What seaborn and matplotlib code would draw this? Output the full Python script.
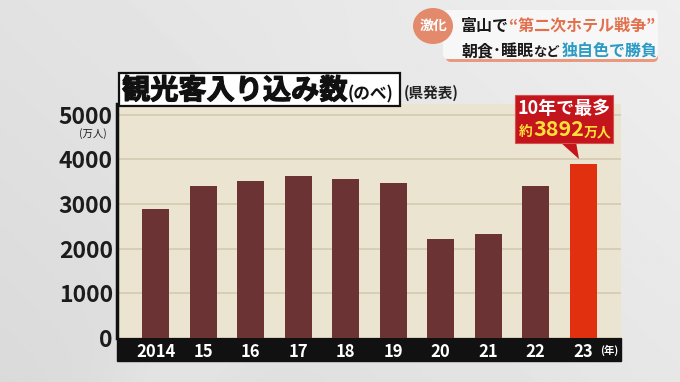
import numpy as np
import pandas as pd
import matplotlib
matplotlib.use("Agg")
import matplotlib.pyplot as plt
import matplotlib.patheffects as pe
import seaborn as sns
from matplotlib.patches import FancyBboxPatch, Rectangle, Ellipse, Polygon

# ---- data ----
years = ["2014", "15", "16", "17", "18", "19", "20", "21", "22", "23"]
visitors = [2880, 3400, 3520, 3630, 3560, 3480, 2215, 2325, 3400, 3892]
yticks = [0, 1000, 2000, 3000, 4000, 5000]
highlight_year = "23"

BAR = "#6b3333"
HIGH = "#e0300f"
colors = [HIGH if y == highlight_year else BAR for y in years]
df = pd.DataFrame({"year": years, "visitors": visitors})

sns.set_theme(style="white")
plt.rcParams["font.family"] = ["Noto Sans CJK JP", "DejaVu Sans"]

W, H = 680, 382
fig = plt.figure(figsize=(6.8, 3.82), dpi=100)

# background gradient
bg = fig.add_axes([0, 0, 1, 1], zorder=-10)
yy, xx = np.mgrid[0:1:200j, 0:1:360j]
val = 0.885 + 0.05 * xx - 0.03 * yy + 0.025 * np.exp(-((xx - 0.25 + yy * 0.3 - 0.3) ** 2) / 0.01) * yy
bg.imshow(val, cmap="gray", vmin=0, vmax=1, aspect="auto", extent=[0, 1, 0, 1])
bg.axis("off")

# main axes
top_px, bot_px, left_px, right_px = 104, 338, 117, 621
ax = fig.add_axes([left_px / W, (H - bot_px) / H, (right_px - left_px) / W, (bot_px - top_px) / H])
sns.barplot(data=df, x="year", y="visitors", hue="year", palette=colors, width=0.57,
            saturation=1, legend=False, ax=ax, zorder=2, linewidth=0, edgecolor="none")
ax.set_xlim(-0.82, 9.8)
ax.set_ylim(0, 5240)
ax.set_facecolor("#ebe4d0")
ax.set_yticks(yticks)
ax.set_yticklabels([str(v) for v in yticks], fontweight="bold")
ax.yaxis.grid(True, color="#d5ccb4", lw=1.3)
ax.set_axisbelow(True)
for s in ["top", "right", "bottom"]:
    ax.spines[s].set_visible(False)
ax.spines["left"].set_color("#111111")
ax.spines["left"].set_linewidth(2.5)
ax.tick_params(axis="y", length=0, pad=3, labelsize=16.5, labelcolor="#1c1c1c")
ax.tick_params(axis="x", length=0, pad=3.5, labelsize=12, labelcolor="white")
for t in ax.get_xticklabels():
    t.set_fontweight("bold")
ax.set_xlabel("")
ax.set_ylabel("")
band_h = 23 / (bot_px - top_px)
ax.add_patch(Rectangle((0, -band_h), 1, band_h, transform=ax.transAxes,
                       color="#111111", clip_on=False, zorder=0.2))

# overlay in pixel coordinates
ov = fig.add_axes([0, 0, 1, 1], zorder=10)
ov.set_xlim(0, W)
ov.set_ylim(H, 0)
ov.axis("off")
ov.patch.set_alpha(0)
renderer = fig.canvas.get_renderer()


def chain(x, y, parts, va="baseline"):
    for s, kw in parts:
        t = ov.text(x, y, s, va=va, ha="left", **kw)
        x += t.get_window_extent(renderer=renderer).width
    return x


# units
ov.text(600, 350, "(年)", color="white", fontsize=7.5, fontweight="bold", ha="left", va="center")
ov.text(93, 134, "(万人)", color="#222222", fontsize=7.5, ha="center", va="center")

# title box
ov.add_patch(Rectangle((119, 73), 281, 33, facecolor="white", edgecolor="#111111", lw=1.6))
stroke = [pe.withStroke(linewidth=0.9, foreground="#111111")]
chain(122, 99, [("観光客入り込み数", dict(fontsize=20.3, fontweight="bold", color="#111111", path_effects=stroke)),
                ("(のべ)", dict(fontsize=12, fontweight="bold", color="#111111"))])
ov.text(404, 98, "(県発表)", fontsize=10.5, fontweight="bold", color="#222222", ha="left", va="baseline")

# banner
ov.add_patch(FancyBboxPatch((446, 12), 212, 50, boxstyle="round,pad=0,rounding_size=5",
                            facecolor="#e98b6c", edgecolor="none", alpha=0.85))
ov.add_patch(FancyBboxPatch((443, 10), 215, 49, boxstyle="round,pad=0,rounding_size=5",
                            facecolor="#f7f7f7", edgecolor="none"))
ov.add_patch(Ellipse((433, 26), 40, 36, facecolor="#e48a6c", edgecolor="none"))
ov.text(433, 26, "激化", color="white", fontsize=10, fontweight="bold", ha="center", va="center")
chain(461, 31, [("富山で", dict(fontsize=11.5, fontweight="bold", color="#1a1a1a")),
                ("“第二次ホテル戦争”", dict(fontsize=11.5, fontweight="bold", color="#e2704c"))])
chain(461, 56, [("朝食", dict(fontsize=11.5, fontweight="bold", color="#1a1a1a")),
                ("･", dict(fontsize=11.5, fontweight="bold", color="#1a1a1a")),
                ("睡眠", dict(fontsize=11.5, fontweight="bold", color="#1a1a1a")),
                ("など", dict(fontsize=9.5, fontweight="bold", color="#1a1a1a")),
                ("\u2009", dict(fontsize=9.5, color="#1a1a1a", family="DejaVu Sans")),
                ("独自色で勝負", dict(fontsize=11.5, fontweight="bold", color="#2b9bc4"))])

# annotation callout
RED = "#c4141c"
ov.add_patch(Polygon([(560, 142), (576, 142), (579, 159)], closed=True, facecolor=RED, edgecolor="none"))
ov.add_patch(Rectangle((515, 95), 98, 48, facecolor=RED, edgecolor="#d85050", lw=0.8))
ov.text(564, 109, "10年で最多", color="white", fontsize=13, fontweight="bold", ha="center", va="center")
chain(519, 136, [("約", dict(fontsize=10, fontweight="bold", color="#ffe03a")),
                 ("3892", dict(fontsize=15.5, fontweight="bold", color="#ffe03a")),
                 ("万人", dict(fontsize=10, fontweight="bold", color="#ffe03a"))])

fig.savefig("out.png", dpi=100)
